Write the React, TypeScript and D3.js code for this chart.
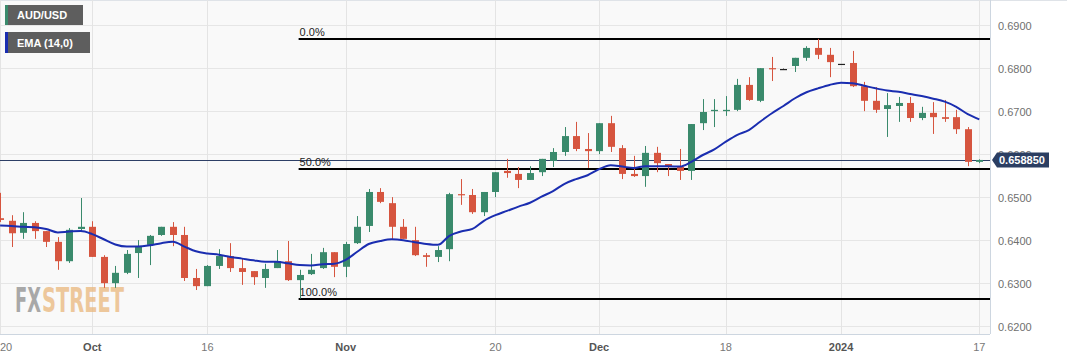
import React from "react";
import * as d3 from "d3";

const dates = [
  "2023-09-20","2023-09-21","2023-09-22","2023-09-25","2023-09-26","2023-09-27","2023-09-28","2023-09-29",
  "2023-10-02","2023-10-03","2023-10-04","2023-10-05","2023-10-06",
  "2023-10-09","2023-10-10","2023-10-11","2023-10-12","2023-10-13",
  "2023-10-16","2023-10-17","2023-10-18","2023-10-19","2023-10-20",
  "2023-10-23","2023-10-24","2023-10-25","2023-10-26","2023-10-27",
  "2023-10-30","2023-10-31",
  "2023-11-01","2023-11-02","2023-11-03",
  "2023-11-06","2023-11-07","2023-11-08","2023-11-09","2023-11-10",
  "2023-11-13","2023-11-14","2023-11-15","2023-11-16","2023-11-17",
  "2023-11-20","2023-11-21","2023-11-22","2023-11-23","2023-11-24",
  "2023-11-27","2023-11-28","2023-11-29","2023-11-30",
  "2023-12-01",
  "2023-12-04","2023-12-05","2023-12-06","2023-12-07","2023-12-08",
  "2023-12-11","2023-12-12","2023-12-13","2023-12-14","2023-12-15",
  "2023-12-18","2023-12-19","2023-12-20","2023-12-21","2023-12-22",
  "2023-12-25","2023-12-26","2023-12-27","2023-12-28","2023-12-29",
  "2024-01-01","2024-01-02","2024-01-03","2024-01-04","2024-01-05",
  "2024-01-08","2024-01-09","2024-01-10","2024-01-11","2024-01-12",
  "2024-01-15","2024-01-16","2024-01-17",
];

const opens = [
  0.6453, 0.6447, 0.6419, 0.6442, 0.6423, 0.6398, 0.6353, 0.6428,
  0.6433, 0.6363, 0.6302, 0.6326, 0.6372,
  0.6391, 0.6414, 0.6433, 0.6414, 0.6314,
  0.6295, 0.6342, 0.6365, 0.6337, 0.6330,
  0.6314, 0.6337, 0.6353, 0.6309, 0.6323,
  0.6337, 0.6374,
  0.6340, 0.6395, 0.6435,
  0.6514, 0.6488, 0.6433, 0.6402, 0.6367,
  0.6363, 0.6381, 0.6509, 0.6507, 0.6467,
  0.6514, 0.6563, 0.6556, 0.6542, 0.6560,
  0.6586, 0.6607, 0.6644, 0.6614,
  0.6609,
  0.6674, 0.6616, 0.6556, 0.6551, 0.6605,
  0.6579, 0.6572, 0.6563, 0.6674, 0.6702,
  0.6702, 0.6705, 0.6763, 0.6726, 0.6802,
  0.6800, 0.6807, 0.6826, 0.6849, 0.6833,
  0.6812, 0.6814, 0.6760, 0.6726, 0.6707,
  0.6714, 0.6721, 0.6686, 0.6698, 0.6688,
  0.6688, 0.6660, 0.6584,
];

const highs = [
  0.6512, 0.6460, 0.6467, 0.6446, 0.6423, 0.6409, 0.6430, 0.6500,
  0.6446, 0.6367, 0.6342, 0.6379, 0.6402,
  0.6414, 0.6433, 0.6444, 0.6433, 0.6335,
  0.6344, 0.6381, 0.6395, 0.6360, 0.6330,
  0.6347, 0.6379, 0.6400, 0.6333, 0.6370,
  0.6384, 0.6374,
  0.6398, 0.6458, 0.6521,
  0.6523, 0.6502, 0.6451, 0.6433, 0.6372,
  0.6388, 0.6512, 0.6544, 0.6521, 0.6514,
  0.6560, 0.6591, 0.6572, 0.6574, 0.6591,
  0.6616, 0.6665, 0.6677, 0.6651,
  0.6674,
  0.6691, 0.6623, 0.6598, 0.6621, 0.6619,
  0.6579, 0.6614, 0.6672, 0.6730, 0.6730,
  0.6737, 0.6777, 0.6781, 0.6802, 0.6828,
  0.6801, 0.6826, 0.6853, 0.6870, 0.6849,
  0.6812, 0.6842, 0.6770, 0.6758, 0.6744,
  0.6735, 0.6735, 0.6712, 0.6723, 0.6728,
  0.6705, 0.6665, 0.6590,
];

const lows = [
  0.6444, 0.6386, 0.6405, 0.6405, 0.6386, 0.6333, 0.6349, 0.6421,
  0.6363, 0.6291, 0.6291, 0.6323, 0.6314,
  0.6344, 0.6412, 0.6388, 0.6307, 0.6286,
  0.6295, 0.6335, 0.6328, 0.6298, 0.6298,
  0.6291, 0.6337, 0.6307, 0.6266, 0.6321,
  0.6335, 0.6316,
  0.6316, 0.6393, 0.6421,
  0.6488, 0.6405, 0.6405, 0.6365, 0.6340,
  0.6351, 0.6353, 0.6484, 0.6463, 0.6458,
  0.6502, 0.6547, 0.6523, 0.6542, 0.6551,
  0.6572, 0.6598, 0.6609, 0.6570,
  0.6602,
  0.6607, 0.6544, 0.6549, 0.6526, 0.6560,
  0.6551, 0.6542, 0.6542, 0.6658, 0.6665,
  0.6691, 0.6702, 0.6726, 0.6723, 0.6772,
  0.6799, 0.6793, 0.6819, 0.6823, 0.6781,
  0.6812, 0.6758, 0.6702, 0.6698, 0.6642,
  0.6677, 0.6677, 0.6681, 0.6649, 0.6677,
  0.6649, 0.6574, 0.6581,
];

const closes = [
  0.6449, 0.6418, 0.6442, 0.6423, 0.6398, 0.6353, 0.6426, 0.6433,
  0.6363, 0.6302, 0.6326, 0.6370, 0.6386,
  0.6412, 0.6433, 0.6414, 0.6314, 0.6295,
  0.6342, 0.6365, 0.6337, 0.6328, 0.6316,
  0.6335, 0.6353, 0.6309, 0.6321, 0.6333,
  0.6374, 0.6340,
  0.6393, 0.6433, 0.6514,
  0.6491, 0.6433, 0.6405, 0.6367, 0.6363,
  0.6379, 0.6509, 0.6507, 0.6467, 0.6514,
  0.6560, 0.6558, 0.6542, 0.6558, 0.6591,
  0.6607, 0.6644, 0.6614, 0.6609,
  0.6674,
  0.6619, 0.6556, 0.6551, 0.6605, 0.6581,
  0.6572, 0.6563, 0.6672, 0.6700, 0.6705,
  0.6705, 0.6763, 0.6728, 0.6802, 0.6800,
  0.6800, 0.6826, 0.6849, 0.6833, 0.6816,
  0.6812, 0.6760, 0.6726, 0.6705, 0.6716,
  0.6721, 0.6686, 0.6698, 0.6688, 0.6684,
  0.6660, 0.6584, 0.65885,
];

const ema14 = [
  0.6436, 0.6435, 0.6433, 0.6432, 0.6428, 0.6420, 0.6422, 0.6423,
  0.6416, 0.6404, 0.6392, 0.6387, 0.6387,
  0.6390, 0.6395, 0.6398, 0.6387, 0.6376,
  0.6371, 0.6368, 0.6363, 0.6359, 0.6355,
  0.6352, 0.6352, 0.6348, 0.6344, 0.6343,
  0.6346, 0.6347,
  0.6356, 0.6375, 0.6393,
  0.6400, 0.6404, 0.6402, 0.6397, 0.6393,
  0.6391, 0.6412, 0.6422, 0.6428, 0.6447,
  0.6460, 0.6470, 0.6480, 0.6489, 0.6503,
  0.6516, 0.6533, 0.6544, 0.6553,
  0.6567,
  0.6576, 0.6573, 0.6570, 0.6574, 0.6574,
  0.6574, 0.6573, 0.6584, 0.6600, 0.6613,
  0.6631, 0.6647, 0.6658, 0.6678, 0.6697,
  0.6714, 0.6732, 0.6746, 0.6755, 0.6763,
  0.6768, 0.6767, 0.6761, 0.6755, 0.6750,
  0.6747, 0.6742, 0.6737, 0.6731, 0.6724,
  0.6712, 0.6695, 0.6683,
];

const yTicks = [0.62, 0.63, 0.64, 0.65, 0.66, 0.67, 0.68, 0.69];
const xTickDates = ["2023-09-20", "2023-10-02", "2023-10-16", "2023-11-01", "2023-11-20", "2023-12-01", "2023-12-18", "2024-01-01", "2024-01-17"];
const xTickLabels = ["20", "Oct", "16", "Nov", "20", "Dec", "18", "2024", "17"];
const xTickBold = [false, true, false, true, false, true, false, true, false];

const fibHigh = 0.6870;
const fibLow = 0.6266;
const fibStartDate = "2023-10-26";
const fibLevels = [0, 0.5, 1];
const fibLabels = ["0.0%", "50.0%", "100.0%"];
const lastPrice = 0.65885;
const lastPriceLabel = "0.658850";

const W = 1067;
const H = 360;
const plotRight = 990;
const plotBottom = 334;
const FONT = "'Liberation Sans', Arial, Helvetica, sans-serif";
const WM_FONT = "'DejaVu Sans Condensed', 'Liberation Sans Narrow', Roboto, sans-serif";
const GREEN = "#3a8a6c";
const RED = "#d6553f";
const BLUE = "#1a2db0";

export default function App() {
  const x = d3.scaleLinear().domain([0, dates.length - 1]).range([0.1, 979.3]);
  const y = d3.scaleLinear().domain([0.62, 0.69]).range([327, 26]);
  const idx = (d: string) => dates.indexOf(d);
  const bodyW = 7;

  const emaLine = d3
    .line<number>()
    .x((_, i) => x(i))
    .y((v) => y(v))
    .curve(d3.curveMonotoneX);

  const fibX0 = x(idx(fibStartDate)) - 1;
  const lastY = Math.round(y(lastPrice)) + 0.5;

  return (
    <svg
      width={W}
      height={H}
      style={{ position: "absolute", left: 0, top: 0, display: "block", background: "#ffffff" }}
      fontFamily={FONT}
    >
      <defs>
        <clipPath id="plotclip">
          <rect x={0} y={0} width={plotRight} height={plotBottom} />
        </clipPath>
      </defs>
      <rect x={0} y={0} width={plotRight} height={plotBottom} fill="#f9f9f9" />
      <line x1={0} x2={W} y1={0.5} y2={0.5} stroke="#dfe3e8" />

      {/* grid */}
      {yTicks.map((t) => (
        <line key={"gy" + t} x1={0} x2={plotRight} y1={Math.round(y(t)) - 0.5} y2={Math.round(y(t)) - 0.5} stroke="#e6e6e6" />
      ))}
      {xTickDates.map((d) => (
        <line key={"gx" + d} x1={Math.round(x(idx(d))) + 0.5} x2={Math.round(x(idx(d))) + 0.5} y1={0} y2={plotBottom} stroke="#e4e4e4" />
      ))}

      {/* watermark */}
      <g opacity={0.75} fontFamily={WM_FONT} fontWeight="bold" fontSize={34}>
        <text x={15} y={312} textLength={26} lengthAdjust="spacingAndGlyphs" fill="#8e8e8e">FX</text>
        <text x={42} y={312} textLength={82} lengthAdjust="spacingAndGlyphs" fill="#e9b77c">STREET</text>
      </g>

      <g clipPath="url(#plotclip)">
        {/* last price line */}
        <line x1={0} x2={plotRight} y1={lastY} y2={lastY} stroke="#2d3f66" strokeWidth={1} />

        {/* fib lines */}
        {fibLevels.map((lv, k) => {
          const py = Math.round(y(fibHigh - (fibHigh - fibLow) * lv));
          return (
            <g key={"fib" + k}>
              <line x1={fibX0} x2={plotRight} y1={py} y2={py} stroke="#000" strokeWidth={2} />
              <text x={fibX0 + 1} y={py - 3} fontSize={11} fill="#222">
                {fibLabels[k]}
              </text>
            </g>
          );
        })}

        {/* candles */}
        {dates.map((d, i) => {
          const o = opens[i];
          const c = closes[i];
          const col = c > o ? GREEN : c < o ? RED : "#222";
          const cx = Math.round(x(i)) + 0.5;
          const top = y(Math.max(o, c));
          const bot = y(Math.min(o, c));
          const bh = Math.max(1.2, bot - top);
          return (
            <g key={d}>
              <line x1={cx} x2={cx} y1={y(highs[i])} y2={y(lows[i])} stroke={col} strokeWidth={1} />
              <rect x={cx - bodyW / 2} y={top} width={bodyW} height={bh} fill={col} />
            </g>
          );
        })}

        {/* EMA */}
        <path d={emaLine(ema14) || ""} fill="none" stroke={BLUE} strokeWidth={2} />
      </g>

      {/* axes borders */}
      <line x1={plotRight + 0.5} x2={plotRight + 0.5} y1={0} y2={plotBottom} stroke="#cdd6e0" />
      <line x1={0} x2={plotRight} y1={plotBottom + 0.5} y2={plotBottom + 0.5} stroke="#cdd6e0" />

      {/* y labels */}
      {yTicks.map((t) => (
        <text key={"yl" + t} x={998} y={y(t) + 4} fontSize={11} fill="#707070">
          {t.toFixed(4)}
        </text>
      ))}

      {/* last price tag */}
      <path
        d={`M${plotRight + 2},${y(lastPrice)} L${plotRight + 7},${y(lastPrice) - 7.5} L${1049},${y(lastPrice) - 7.5} L${1049},${y(lastPrice) + 7.5} L${plotRight + 7},${y(lastPrice) + 7.5} Z`}
        fill="#2b3e62"
      />
      <text x={999} y={y(lastPrice) + 4} fontSize={11} fontWeight="bold" fill="#ffffff">
        {lastPriceLabel}
      </text>

      {/* x labels */}
      {xTickDates.map((d, k) => {
        const px = x(idx(d));
        const anchor = k === 0 ? "start" : "middle";
        return (
          <text
            key={"xl" + d}
            x={k === 0 ? 0 : px}
            y={351}
            fontSize={11}
            textAnchor={anchor}
            fontWeight={xTickBold[k] ? "bold" : "normal"}
            fill={xTickBold[k] ? "#555" : "#777"}
          >
            {xTickLabels[k]}
          </text>
        );
      })}

      {/* legend */}
      <g>
        <rect x={5} y={5} width={78} height={20} fill="#5e5e5e" />
        <rect x={5} y={5} width={3} height={20} fill={GREEN} />
        <text x={17} y={19} fontSize={11} fontWeight="bold" fill="#ffffff">AUD/USD</text>
        <rect x={5} y={32} width={85} height={21} fill="#5e5e5e" />
        <rect x={5} y={32} width={3} height={21} fill={BLUE} />
        <text x={17} y={47} fontSize={11} fontWeight="bold" fill="#ffffff">EMA (14,0)</text>
      </g>
    </svg>
  );
}
